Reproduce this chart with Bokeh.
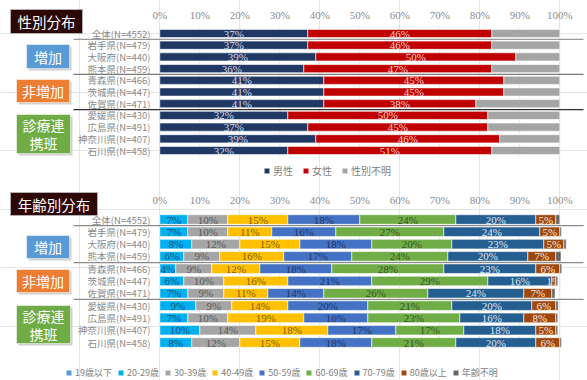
import numpy as np
from bokeh.plotting import figure
from bokeh.models import Range1d, ColumnDataSource, Legend, LegendItem
from bokeh.core.properties import value
from bokeh.embed import file_html
from bokeh.resources import INLINE

# ---------------- data ----------------
groups = ["全体(N=4552)", "岩手県(N=479)", "大阪府(N=440)", "熊本県(N=459)",
          "青森県(N=466)", "茨城県(N=447)", "佐賀県(N=471)",
          "愛媛県(N=430)", "広島県(N=491)", "神奈川県(N=407)", "石川県(N=458)"]

tick_values = [0, 10, 20, 30, 40, 50, 60, 70, 80, 90, 100]
tick_labels = ["0%", "10%", "20%", "30%", "40%", "50%", "60%", "70%", "80%", "90%", "100%"]

# sex distribution (%)
sex_series = ["男性", "女性", "性別不明"]
sex_male = [37, 37, 39, 36, 41, 41, 41, 32, 37, 39, 32]
sex_female = [46, 46, 50, 47, 45, 45, 38, 50, 45, 46, 51]
sex_unknown = [17, 17, 11, 17, 14, 14, 21, 18, 18, 15, 17]

# age distribution (%)
age_series = ["19歳以下", "20-29歳", "30-39歳", "40-49歳", "50-59歳",
              "60-69歳", "70-79歳", "80歳以上", "年齢不明"]
age_u19 = [0, 0, 0, 0, 0, 0, 0, 0, 0, 0, 0]
age_20s = [7, 7, 8, 6, 4, 6, 7, 9, 7, 10, 8]
age_30s = [10, 10, 12, 9, 9, 10, 9, 9, 10, 14, 12]
age_40s = [15, 11, 15, 16, 12, 16, 11, 14, 19, 18, 15]
age_50s = [18, 16, 18, 17, 18, 21, 14, 20, 16, 17, 18]
age_60s = [24, 27, 20, 24, 28, 29, 26, 21, 23, 17, 21]
age_70s = [20, 24, 23, 20, 23, 16, 24, 20, 16, 18, 20]
age_80p = [5, 5, 5, 7, 6, 1, 7, 6, 8, 5, 6]
age_unknown = [1, 0.4, 0.6, 1.3, 0.5, 0.5, 0.8, 0.6, 0.5, 0.5, 0.4]

# ---------------- layout ----------------
W, H = 587, 380
X0 = 159.3          # pixel position of 0%
PPU = 4.0           # pixels per percent
TOP_ROW0, TOP_PITCH = 33.0, 11.7
BOT_ROW0, BOT_PITCH = 219.0, 12.3

JP = value("Noto Sans CJK JP")
NUM = value("Liberation Serif")


def xd(px):
    return (px - X0) / PPU


def yt(px):
    return (px - TOP_ROW0) / TOP_PITCH


def yb(px):
    return (px - BOT_ROW0) / BOT_PITCH


p = figure(width=W, height=H, output_backend="svg", toolbar_location=None,
           x_range=Range1d(xd(0), xd(W)),
           y_range=Range1d(yt(H), yt(0)),
           x_axis_location=None, y_axis_location=None,
           min_border=0, outline_line_color=None)
p.extra_y_ranges = {"age": Range1d(yb(H), yb(0))}
p.background_fill_color = "white"
p.border_fill_color = "white"

rows = np.arange(len(groups))

# vertical gridlines and percent tick labels for each panel
for rng, tick_y in (("default", yt(14)), ("age", yb(199))):
    p.segment(x0=tick_values, x1=tick_values, y0=-0.5, y1=10.5,
              line_color="#e3e3e3", line_width=1, y_range_name=rng)
    p.text(x=tick_values, y=[tick_y] * len(tick_values), text=tick_labels,
           text_align="center", text_baseline="middle", text_color="#8c8c8c",
           text_font=NUM, text_font_size="11px", y_range_name=rng)

# row labels
for rng in ("default", "age"):
    p.text(x=[xd(150)] * len(groups), y=rows, text=groups, text_align="right",
           text_baseline="middle", text_color="#8a8a8a", text_font=JP,
           text_font_size="9.5px", y_range_name=rng)

# group separators
for rng, colors in (("default", ["#9a9a9a", "#7a7a7a", "#303030"]),
                    ("age", ["#8a8a8a", "#8a8a8a", "#8a8a8a"])):
    p.segment(x0=[xd(73)] * 3, x1=[xd(583)] * 3, y0=[0.5, 3.5, 6.5], y1=[0.5, 3.5, 6.5],
              line_color=colors, line_width=1.2, y_range_name=rng)


def stacked(series_values, colors, text_colors, rng, height):
    left = np.zeros(len(groups))
    rends = []
    for vals, color, tcolor in zip(series_values, colors, text_colors):
        vals = np.asarray(vals, dtype=float)
        src = ColumnDataSource(dict(y=rows, left=left.copy(), right=left + vals,
                                    mid=left + vals / 2,
                                    label=[f"{v:g}%" for v in vals]))
        r = p.hbar(y="y", left="left", right="right", height=height, source=src,
                   fill_color=color, line_color="white", line_width=0.6,
                   y_range_name=rng)
        if tcolor is not None:
            p.text(x="mid", y="y", text="label", source=src, text_color=tcolor,
                   text_align="center", text_baseline="middle", text_font=NUM,
                   text_font_size="11px", y_range_name=rng)
        left = left + vals
        rends.append(r)
    return rends


sex_rends = stacked([sex_male, sex_female, sex_unknown],
                    ["#203864", "#c00000", "#a5a5a5"],
                    ["#d6dceb", "#f6d6d6", None], "default", 0.7)

age_rends = stacked([age_u19, age_20s, age_30s, age_40s, age_50s, age_60s,
                     age_70s, age_80p, age_unknown],
                    ["#5b9bd5", "#00b0f0", "#a5a5a5", "#ffc000", "#4472c4",
                     "#70ad47", "#255e91", "#9e480e", "#636363"],
                    [None, "#1f4e79", "#595959", "#7f6000", "#203864",
                     "#375623", "#dce6f2", "#fbe5d6", None], "age", 0.78)

# panel titles
for rng, conv, (l, r, t, b), title in (
        ("default", yt, (10, 82, 9, 33), "性別分布"),
        ("age", yb, (10, 97, 192, 215), "年齢別分布")):
    p.quad(left=xd(l), right=xd(r), top=conv(t), bottom=conv(b),
           fill_color="#2e0707", line_color="#b0b0b0", line_width=1, y_range_name=rng)
    p.text(x=[xd((l + r) / 2)], y=[conv((t + b) / 2)], text=[title],
           text_align="center", text_baseline="middle", text_color="white",
           text_font=JP, text_font_size="14.5px", y_range_name=rng)

# region group boxes
boxes = [((26, 69), "#5b9bd5", ["増加"]),
         ((16, 69), "#ed7d31", ["非増加"]),
         ((16, 70), "#6fac46", ["診療連", "携班"])]
top_spans = [(44, 68), (79, 102), (114, 153)]
bot_spans = [(235, 258), (269, 292), (305, 343)]
for rng, conv, spans in (("default", yt, top_spans), ("age", yb, bot_spans)):
    for ((l, r), color, lines), (t, b) in zip(boxes, spans):
        p.quad(left=xd(l + 2), right=xd(r + 2), top=conv(t + 2), bottom=conv(b + 2),
               fill_color="#9a9a9a", fill_alpha=0.45, line_color=None, y_range_name=rng)
        p.quad(left=xd(l), right=xd(r), top=conv(t), bottom=conv(b),
               fill_color=color, line_color="#ffffff", line_alpha=0.5, line_width=1,
               y_range_name=rng)
        cy = (t + b) / 2
        n = len(lines)
        for i, txt in enumerate(lines):
            py = cy + (i - (n - 1) / 2) * 18
            p.text(x=[xd((l + r) / 2)], y=[conv(py)], text=[txt], text_align="center",
                   text_baseline="middle", text_color="white", text_font=JP,
                   text_font_size="14px", y_range_name=rng)


def make_legend(names, rends, loc, font_size, spacing):
    lg = Legend(items=[LegendItem(label=n, renderers=[r]) for n, r in zip(names, rends)],
                orientation="horizontal", location=loc, padding=0, margin=0,
                spacing=spacing, glyph_width=7, glyph_height=7, label_standoff=3,
                label_height=10, label_text_font="Noto Sans CJK JP",
                label_text_font_size=font_size, label_text_color="#7f7f7f",
                border_line_color=None, background_fill_alpha=0)
    p.add_layout(lg)


make_legend(sex_series, sex_rends, (263, H - 178), "10px", 9)
make_legend(age_series, age_rends, (65, H - 379), "9px", 5)

open("out.html", "w").write(file_html(p, INLINE))
